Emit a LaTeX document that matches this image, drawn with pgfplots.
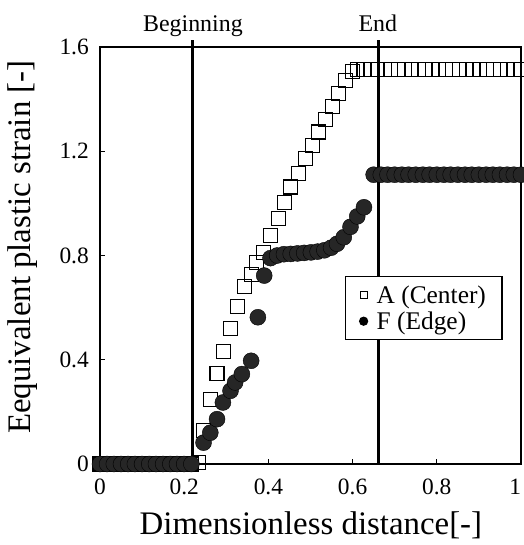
\documentclass[border=0pt]{standalone}
\usepackage{fontspec}
\setmainfont{Liberation Serif}
\usepackage{pgfplots}
\pgfplotsset{compat=1.18}

\begin{document}
\begin{tikzpicture}
\begin{axis}[
    width=421bp, height=417bp, scale only axis,
    xmin=0, xmax=1, ymin=0, ymax=1.6,
    xtick={0,0.2,0.4,0.6,0.8,1},
    xticklabels={0,0.2,0.4,0.6,0.8,\makebox[0pt][r]{1}},
    ytick={0,0.4,0.8,1.2,1.6},
    yticklabels={0,0.4,0.8,1.2,1.6},
    tick pos=left, tick align=inside,
    major tick length=5bp,
    axis line style={line width=1.2bp},
    tick style={line width=1bp, black},
    ticklabel style={font=\fontsize{23.5}{27}\selectfont, inner sep=0pt},
    xticklabel style={anchor=north, yshift=-15bp},
    yticklabel style={anchor=east, xshift=-11bp},
    xlabel={Dimensionless distance[-]},
    ylabel={Eequivalent plastic strain [-]},
    label style={font=\fontsize{33}{37}\selectfont},
    xlabel style={at={(axis description cs:0.501,-0.146)}, anchor=center},
    ylabel style={at={(axis description cs:-0.183,0.52)}, anchor=center},
    clip=false,
    legend style={at={(0.582,0.451)}, anchor=north west,
        font=\fontsize{25.5}{28}\selectfont, draw=black, line width=1.2bp,
        inner xsep=14bp, inner ysep=7bp, row sep=3bp,
        /tikz/every odd column/.append style={column sep=7bp}},
    legend cell align=left,
]
% A (Center)
\addplot[only marks, mark=square, mark size=7bp,
    mark options={line width=1.1bp, black}, forget plot] coordinates {
    (0,0) (0.017,0) (0.033,0) (0.05,0) (0.067,0) (0.083,0) (0.1,0)
    (0.117,0) (0.133,0) (0.15,0) (0.167,0) (0.183,0) (0.2,0) (0.217,0)
    (0.234,0.005) (0.246,0.13) (0.262,0.246) (0.278,0.346) (0.294,0.432)
    (0.310,0.519) (0.327,0.605) (0.343,0.681) (0.359,0.727) (0.371,0.774)
    (0.389,0.813) (0.406,0.877) (0.425,0.941) (0.438,1.003) (0.452,1.063)
    (0.472,1.114) (0.488,1.172) (0.504,1.223) (0.520,1.274) (0.536,1.322)
    (0.552,1.373) (0.567,1.422) (0.583,1.473) (0.599,1.505) (0.611,1.512)
    (0.627,1.512) (0.643,1.512) (0.659,1.512) (0.675,1.512) (0.691,1.512)
    (0.708,1.512) (0.724,1.512) (0.740,1.512) (0.756,1.512) (0.772,1.512)
    (0.789,1.512) (0.805,1.512) (0.821,1.512) (0.837,1.512) (0.853,1.512)
    (0.870,1.512) (0.886,1.512) (0.902,1.512) (0.918,1.512) (0.934,1.512)
    (0.951,1.512) (0.967,1.512) (0.983,1.512) (0.999,1.512)
};
% F (Edge)
\addplot[only marks, mark=*, mark size=8bp,
    mark options={black, fill=black!85}, forget plot] coordinates {
    (0,0) (0.017,0) (0.033,0) (0.05,0) (0.067,0) (0.083,0) (0.1,0)
    (0.117,0) (0.133,0) (0.15,0) (0.167,0) (0.183,0) (0.2,0) (0.217,0)
    (0.246,0.082) (0.262,0.12) (0.278,0.172) (0.292,0.236) (0.310,0.281)
    (0.321,0.313) (0.337,0.345) (0.359,0.396) (0.375,0.563) (0.390,0.723)
    (0.405,0.79) (0.421,0.80) (0.437,0.805) (0.453,0.806) (0.469,0.808)
    (0.485,0.81) (0.501,0.812) (0.517,0.815) (0.533,0.82) (0.549,0.83)
    (0.563,0.845) (0.579,0.87) (0.595,0.91) (0.611,0.95) (0.627,0.985)
    (0.650,1.11) (0.667,1.11) (0.683,1.11) (0.700,1.11) (0.717,1.11)
    (0.733,1.11) (0.750,1.11) (0.767,1.11) (0.783,1.11) (0.800,1.11)
    (0.817,1.11) (0.833,1.11) (0.850,1.11) (0.867,1.11) (0.883,1.11)
    (0.900,1.11) (0.917,1.11) (0.933,1.11) (0.950,1.11) (0.967,1.11)
    (0.983,1.11) (1.0,1.11)
};
\addlegendimage{only marks, mark=square, mark size=3.5bp, mark options={line width=1bp, black}}
\addlegendentry{A (Center)}
\addlegendimage{only marks, mark=*, mark size=4bp, mark options={black}}
\addlegendentry{F (Edge)}

% process start and end lines
\draw[line width=3bp, black] (axis cs:0.2207,0) -- (axis cs:0.2207,1.627);
\draw[line width=3bp, black] (axis cs:0.6627,0) -- (axis cs:0.6627,1.627);
\node[anchor=base, font=\fontsize{24}{28}\selectfont] at (axis cs:0.2207,1.658) {Beginning};
\node[anchor=base, font=\fontsize{24}{28}\selectfont] at (axis cs:0.66,1.658) {End};

\coordinate (sw) at (rel axis cs:0,0);
\coordinate (ne) at (rel axis cs:1,1);
\end{axis}
\pgfresetboundingbox
\path ([xshift=-100bp,yshift=-81bp]sw) rectangle ([xshift=3bp,yshift=47bp]ne);
\end{tikzpicture}
\end{document}
